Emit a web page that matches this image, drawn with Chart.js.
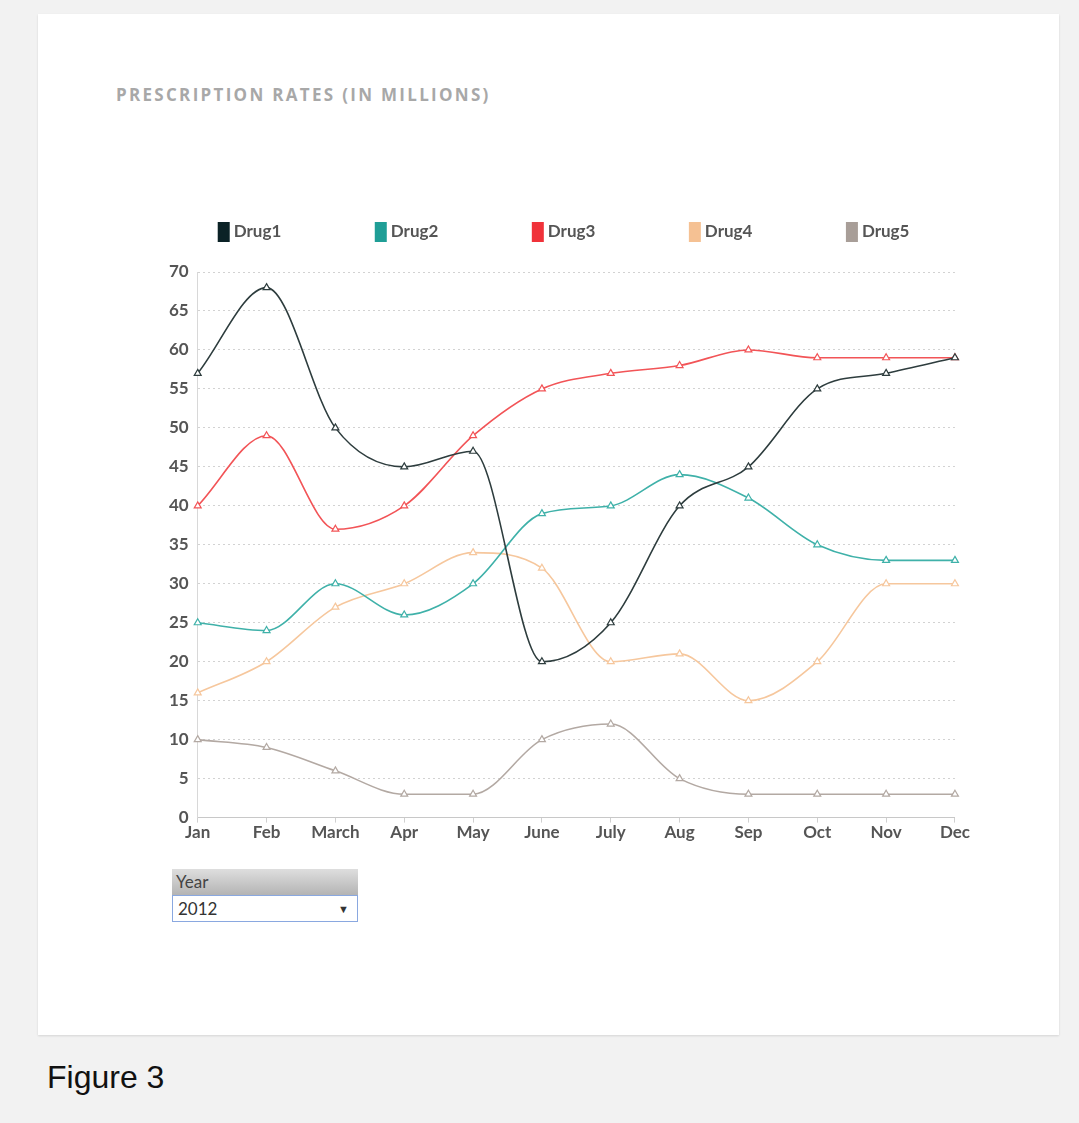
<!DOCTYPE html>
<html>
<head>
<meta charset="utf-8">
<script src="https://cdn.jsdelivr.net/npm/chart.js@4/dist/chart.umd.min.js"></script>
<style>
  html,body{margin:0;padding:0;background:#f2f2f2;width:1079px;height:1123px;overflow:hidden;}
  #card{position:absolute;left:38px;top:14px;width:1021px;height:1021px;background:#fff;box-shadow:0 1px 2px rgba(0,0,0,0.12);}
  #title{position:absolute;left:116px;top:83px;font-family:"Open Sans","DejaVu Sans",sans-serif;font-weight:700;font-size:17px;letter-spacing:2.3px;color:#a8a8a8;}
  #wrap{position:absolute;left:160px;top:212px;width:810px;height:631px;}
  #yearbox{position:absolute;left:172px;top:869px;width:186px;font-family:Lato,"Open Sans",sans-serif;}
  #yearhead{height:26px;line-height:26px;padding-left:4px;font-size:17px;color:#444;background:linear-gradient(#dedede,#b4b4b4);}
  #yearsel{height:25px;line-height:25px;border:1.5px solid #8aa8e0;padding-left:5px;font-size:17px;color:#333;position:relative;background:#fff;}
  #yearsel span{position:absolute;right:8px;top:0;font-size:11px;}
  #fig{position:absolute;left:47px;top:1059px;font-family:"Liberation Sans",Arial,sans-serif;font-size:32px;color:#111;}
</style>
</head>
<body>
<div id="card"></div>
<div id="title">PRESCRIPTION RATES (IN MILLIONS)</div>
<div id="wrap"><canvas id="c"></canvas></div>
<div id="yearbox"><div id="yearhead">Year</div><div id="yearsel">2012<span>&#9660;</span></div></div>
<div id="fig">Figure 3</div>
<script>
const months = ["Jan","Feb","March","Apr","May","June","July","Aug","Sep","Oct","Nov","Dec"];
const seriesNames = ["Drug1","Drug2","Drug3","Drug4","Drug5"];
const drug1 = [57,68,50,45,47,20,25,40,45,55,57,59];
const drug2 = [25,24,30,26,30,39,40,44,41,35,33,33];
const drug3 = [40,49,37,40,49,55,57,58,60,59,59,59];
const drug4 = [16,20,27,30,34,32,20,21,15,20,30,30];
const drug5 = [10,9,6,3,3,10,12,5,3,3,3,3];
const yTicks = [0,5,10,15,20,25,30,35,40,45,50,55,60,65,70];

const fillColors = ["#0b2226","#1f9e96","#f0323a","#f5c193","#a89e98"];
const lineColors = ["#2e3d3e","#3fb1a9","#f25457","#f6c79d","#b3a9a3"];
const values = [drug1,drug2,drug3,drug4,drug5];

const FONT = "Lato,'Open Sans',sans-serif";

const legendPlugin = {
  id: 'customLegend',
  afterDraw(chart) {
    const ctx = chart.ctx, a = chart.chartArea;
    const step = (a.right - a.left) * 157 / 757;
    const y = a.top - 40;
    ctx.save();
    ctx.font = "bold 17px " + FONT;
    ctx.textBaseline = 'middle';
    ctx.textAlign = 'left';
    chart.data.datasets.forEach((d, i) => {
      const x = a.left + 20 + i * step;
      ctx.fillStyle = fillColors[i];
      ctx.fillRect(x, y - 10, 12, 20);
      ctx.fillStyle = '#555';
      ctx.fillText(d.label, x + 16, y);
    });
    ctx.restore();
  }
};

new Chart(document.getElementById('c'), {
  type: 'line',
  data: {
    labels: months,
    datasets: seriesNames.map((n,i)=>({
      label: n,
      data: values[i],
      borderColor: lineColors[i],
      backgroundColor: fillColors[i],
      borderWidth: 1.6,
      cubicInterpolationMode: 'monotone',
      pointStyle: 'triangle',
      pointRadius: 4,
      pointBorderWidth: 1.2,
      pointBackgroundColor: '#ffffff',
      pointBorderColor: lineColors[i],
      fill: false
    }))
  },
  options: {
    responsive: true,
    maintainAspectRatio: false,
    animation: false,
    layout: {padding: {left: 0, right: 0, top: 60, bottom: 0}},
    plugins: {
      legend: {display: false},
      tooltip: {enabled: false}
    },
    scales: {
      x: {
        offset: false,
        grid: {display: true, drawOnChartArea: false, drawTicks: true, tickLength: 5, color: '#d0d0d0'},
        border: {display: true, color: '#c8c8c8'},
        ticks: {color: '#555', font: {family: FONT, size: 17, weight: 'bold'}, padding: 0, maxRotation: 0, autoSkip: false}
      },
      y: {
        min: 0, max: 70,
        afterBuildTicks: (axis) => { axis.ticks = yTicks.map(v=>({value:v})); },
        grid: {color: '#d2d2d2', lineWidth: 1, drawTicks: false},
        border: {display: true, color: '#d8d8d8', dash: [2,3]},
        ticks: {color: '#555', font: {family: FONT, size: 17, weight: 'bold'}, padding: 9}
      }
    }
  },
  plugins: [legendPlugin]
});
</script>
</body>
</html>
